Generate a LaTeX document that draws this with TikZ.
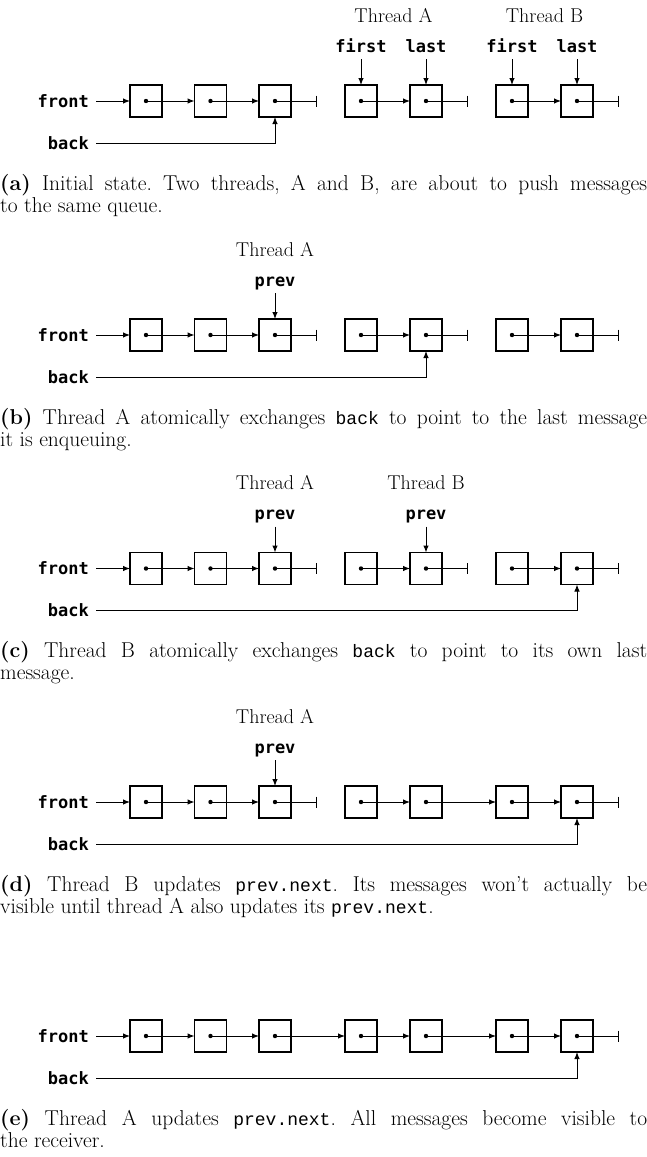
\documentclass[tikz,border=0pt]{standalone}
\usepackage{fontspec}
\newfontfamily\codefont{DejaVu Sans Mono}
\newfontfamily\textcodefont{Liberation Mono}
\usetikzlibrary{arrows.meta}

% one queue row: side labels, seven message cells with their dots,
% and an end point for the null link of each cell
\newcommand\queuerow[2]{%
  \node[side] (#1-front) at (96,#2) {front};
  \node[side] (#1-back) at (96,#2+42) {back};
  \foreach \i/\x in {1/146,2/210.5,3/275,4/361,5/426,6/512,7/577} {
    \node[cell] (#1-\i) at (\x,#2) {};
    \fill (#1-\i.center) circle (2.2pt);
    \coordinate (#1-\i-end) at (\x+42,#2);
  }
  \draw[link] (#1-front) -- (#1-1);
}
\newcommand\cd[1]{{\textcodefont\fontsize{18}{22}\selectfont #1}}
\newcommand\captext[1]{\parbox[t]{647pt}{\frenchspacing #1}}

\begin{document}
\begin{tikzpicture}[x=1pt,y=-1pt,
  cell/.style={draw, line width=1.1pt, minimum size=32pt, inner sep=0pt, outer sep=0pt},
  link/.style={line width=1pt, -{Latex[length=7pt,width=5.5pt]}},
  nil/.style={line width=1pt, -{Bar[width=11pt]}},
  side/.style={font=\codefont\bfseries\fontsize{17}{17}\selectfont, anchor=east,
    inner ysep=0pt, inner xsep=7pt},
  varname/.style={font=\codefont\bfseries\fontsize{17}{17}\selectfont, inner sep=0pt,
    text height=12pt, text depth=7pt, anchor=base},
  thread/.style={font=\fontsize{20}{22}\selectfont, inner sep=0pt, anchor=base},
  caption/.style={font=\fontsize{21.5}{22}\selectfont, inner sep=0pt, anchor=base west},
]
\useasboundingbox (0,0) rectangle (647,1157);

% (a) initial state
\queuerow{a}{101}
\draw[link] (a-1.center) -- (a-2.west);
\draw[link] (a-2.center) -- (a-3.west);
\draw[nil] (a-3.center) -- (a-3-end);
\draw[link] (a-4.center) -- (a-5.west);
\draw[nil] (a-5.center) -- (a-5-end);
\draw[link] (a-6.center) -- (a-7.west);
\draw[nil] (a-7.center) -- (a-7-end);
\draw[link] (a-back) -| (a-3.south);
\node[thread] (a-ta) at (393.5,22) {Thread A};
\node[thread] (a-tb) at (544.5,22) {Thread B};
\node[varname] (a-first1) at (361,52) {first};
\node[varname] (a-last1) at (426,52) {last};
\node[varname] (a-first2) at (512,52) {first};
\node[varname] (a-last2) at (577,52) {last};
\draw[link] (a-first1.south) -- (a-4.north);
\draw[link] (a-last1.south) -- (a-5.north);
\draw[link] (a-first2.south) -- (a-6.north);
\draw[link] (a-last2.south) -- (a-7.north);
\node[caption] (a-cap) at (0,190) {\captext{\textbf{(a)} Initial state. Two threads, A and B, are about to push messages\linebreak to the same queue.}};

% (b) thread A swaps back
\queuerow{b}{335}
\draw[link] (b-1.center) -- (b-2.west);
\draw[link] (b-2.center) -- (b-3.west);
\draw[nil] (b-3.center) -- (b-3-end);
\draw[link] (b-4.center) -- (b-5.west);
\draw[nil] (b-5.center) -- (b-5-end);
\draw[link] (b-6.center) -- (b-7.west);
\draw[nil] (b-7.center) -- (b-7-end);
\draw[link] (b-back) -| (b-5.south);
\node[thread] (b-ta) at (275,256) {Thread A};
\node[varname] (b-prev) at (275,286) {prev};
\draw[link] (b-prev.south) -- (b-3.north);
\node[caption] (b-cap) at (0,424) {\captext{\textbf{(b)} Thread A atomically exchanges \cd{back} to point to the last message\linebreak it is enqueuing.}};

% (c) thread B swaps back
\queuerow{c}{568.5}
\draw[link] (c-1.center) -- (c-2.west);
\draw[link] (c-2.center) -- (c-3.west);
\draw[nil] (c-3.center) -- (c-3-end);
\draw[link] (c-4.center) -- (c-5.west);
\draw[nil] (c-5.center) -- (c-5-end);
\draw[link] (c-6.center) -- (c-7.west);
\draw[nil] (c-7.center) -- (c-7-end);
\draw[link] (c-back) -| (c-7.south);
\node[thread] (c-ta) at (275,489.5) {Thread A};
\node[thread] (c-tb) at (426,489.5) {Thread B};
\node[varname] (c-prev1) at (275,519.5) {prev};
\node[varname] (c-prev2) at (426,519.5) {prev};
\draw[link] (c-prev1.south) -- (c-3.north);
\draw[link] (c-prev2.south) -- (c-5.north);
\node[caption] (c-cap) at (0,657.5) {\captext{\textbf{(c)} Thread B atomically exchanges \cd{back} to point to its own last\linebreak message.}};

% (d) thread B links its messages
\queuerow{d}{802}
\draw[link] (d-1.center) -- (d-2.west);
\draw[link] (d-2.center) -- (d-3.west);
\draw[nil] (d-3.center) -- (d-3-end);
\draw[link] (d-4.center) -- (d-5.west);
\draw[link] (d-5.center) -- (d-6.west);
\draw[link] (d-6.center) -- (d-7.west);
\draw[nil] (d-7.center) -- (d-7-end);
\draw[link] (d-back) -| (d-7.south);
\node[thread] (d-ta) at (275,723) {Thread A};
\node[varname] (d-prev) at (275,753) {prev};
\draw[link] (d-prev.south) -- (d-3.north);
\node[caption] (d-cap) at (0,891) {\captext{\textbf{(d)} Thread B updates \cd{prev.next}. Its messages won’t actually be\linebreak visible until thread A also updates its \cd{prev.next}.}};

% (e) thread A links its messages
\queuerow{e}{1036}
\draw[link] (e-1.center) -- (e-2.west);
\draw[link] (e-2.center) -- (e-3.west);
\draw[link] (e-3.center) -- (e-4.west);
\draw[link] (e-4.center) -- (e-5.west);
\draw[link] (e-5.center) -- (e-6.west);
\draw[link] (e-6.center) -- (e-7.west);
\draw[nil] (e-7.center) -- (e-7-end);
\draw[link] (e-back) -| (e-7.south);
\node[caption] (e-cap) at (0,1125) {\captext{\textbf{(e)} Thread A updates \cd{prev.next}. All messages become visible to\linebreak the receiver.}};
\end{tikzpicture}
\end{document}
